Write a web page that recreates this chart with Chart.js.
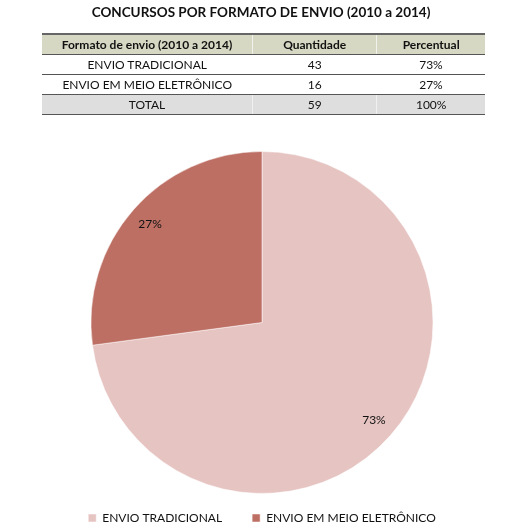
<!DOCTYPE html>
<html>
<head>
<meta charset="utf-8">
<script src="https://cdn.jsdelivr.net/npm/chart.js@4/dist/chart.umd.min.js"></script>
<style>
  html, body { margin:0; padding:0; background:#fff; width:528px; height:528px; overflow:hidden; font-family: Lato, "Open Sans", sans-serif; color:#111; }
  #wrap { position:absolute; left:0; top:0; width:528px; height:528px; overflow:hidden; }
  #title { position:absolute; left:0; top:4px; width:522px; text-align:center; font-weight:bold; font-size:13.5px; z-index:2; }
  table { position:absolute; left:42px; top:33px; width:443px; border-collapse:collapse; font-size:12px; z-index:2; }
  td { text-align:center; height:19px; padding:0; border-bottom:1px solid #555; line-height:19px; }
  tr.head td { background:#d7d8c3; font-weight:bold; border-top:2px solid #666; }
  tr.head td + td { border-left:1px solid #f2f2ec; }
  tr.tot td { background:#dedede; }
  tr.tot td + td { border-left:1px solid #f0f0f0; }
  canvas { position:absolute; left:0; top:0; }
</style>
</head>
<body>
<div id="wrap">
  <div id="title"></div>
  <table id="tbl"></table>
  <canvas id="c" width="528" height="534"></canvas>
</div>
<script>
const titleText = "CONCURSOS POR FORMATO DE ENVIO (2010 a 2014)";
const tableHeaders = ["Formato de envio (2010 a 2014)", "Quantidade", "Percentual"];
const categories = ["ENVIO TRADICIONAL", "ENVIO EM MEIO ELETRÔNICO"];
const quantities = [43, 16];
const percentLabels = ["73%", "27%"];
const totalRow = ["TOTAL", "59", "100%"];
const colors = ["#e6c4c2", "#bd6f64"];

document.getElementById('title').textContent = titleText;
const tbl = document.getElementById('tbl');
function addRow(cells, cls, widths) {
  const tr = document.createElement('tr');
  if (cls) tr.className = cls;
  cells.forEach((c, i) => {
    const td = document.createElement('td');
    td.textContent = c;
    if (widths) td.style.width = widths[i] + 'px';
    tr.appendChild(td);
  });
  tbl.appendChild(tr);
}
addRow(tableHeaders, 'head', [211, 124, 108]);
categories.forEach((c, i) => addRow([c, String(quantities[i]), percentLabels[i]], ''));
addRow(totalRow, 'tot');

const labelPlugin = {
  id: 'sliceLabels',
  afterDatasetsDraw(chart) {
    const ctx = chart.ctx;
    const meta = chart.getDatasetMeta(0);
    ctx.save();
    ctx.font = '12px Lato, "Open Sans", sans-serif';
    ctx.fillStyle = '#111';
    ctx.textAlign = 'center';
    ctx.textBaseline = 'middle';
    meta.data.forEach((arc, i) => {
      const p = arc.getProps(['x', 'y', 'startAngle', 'endAngle', 'outerRadius'], true);
      const mid = (p.startAngle + p.endAngle) / 2;
      const r = p.outerRadius * 0.87;
      ctx.fillText(percentLabels[i], p.x + Math.cos(mid) * r, p.y + Math.sin(mid) * r);
    });
    ctx.restore();
  }
};

new Chart(document.getElementById('c'), {
  type: 'pie',
  data: {
    labels: categories,
    datasets: [{
      data: quantities,
      backgroundColor: colors,
      borderColor: '#ffffff',
      borderWidth: 0.5,
      radius: 171,
      clip: false
    }]
  },
  options: {
    responsive: false,
    animation: false,
    devicePixelRatio: 1,
    layout: { padding: { top: 163, bottom: 0, left: 0, right: 4 } },
    plugins: {
      tooltip: { enabled: false },
      legend: {
        position: 'bottom',
        labels: {
          boxWidth: 8, boxHeight: 8, padding: 30,
          color: '#111',
          font: { size: 12, family: 'Lato, "Open Sans", sans-serif' }
        }
      }
    }
  },
  plugins: [labelPlugin]
});
</script>
</body>
</html>
